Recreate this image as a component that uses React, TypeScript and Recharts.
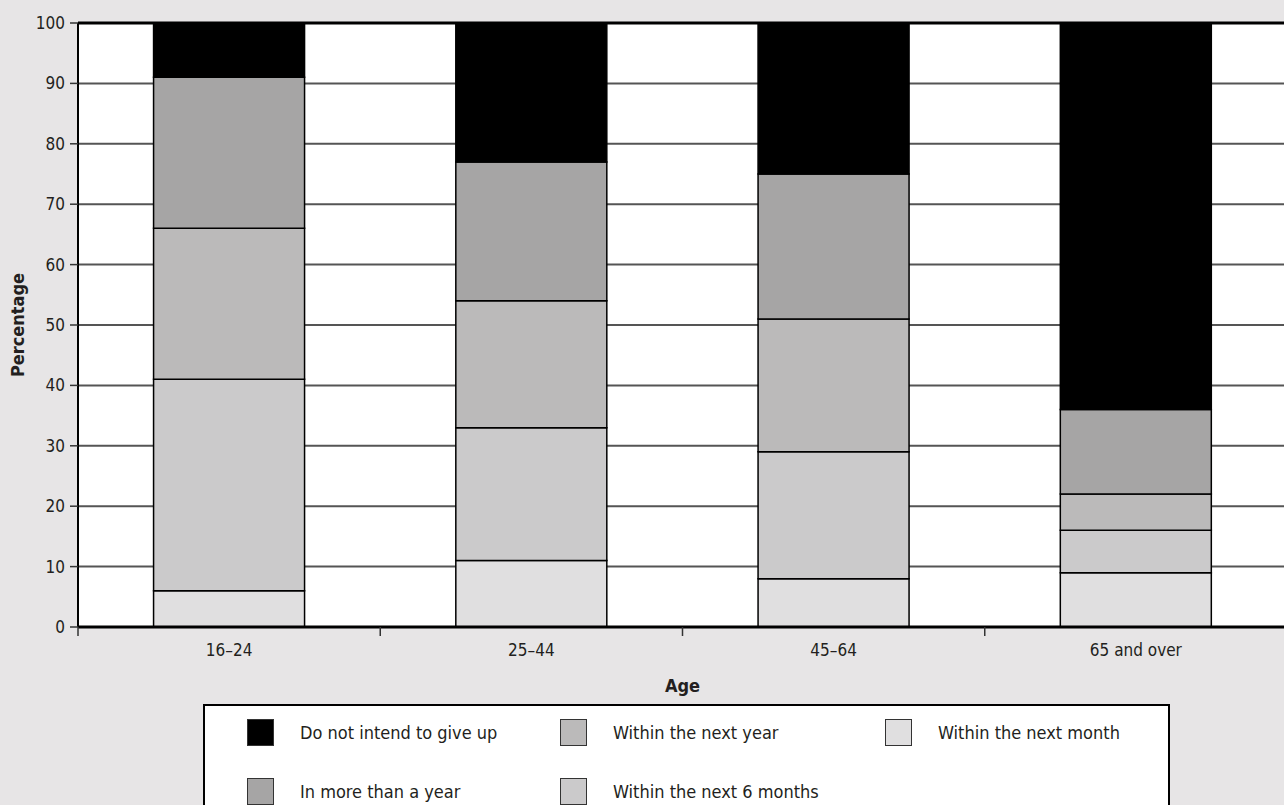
import React from 'react';
import { BarChart, Bar, XAxis, YAxis, CartesianGrid, ReferenceLine, Label } from 'recharts';

const ageGroups = ['16–24', '25–44', '45–64', '65 and over'];
const withinNextMonth = [6, 11, 8, 9];
const withinNext6Months = [35, 22, 21, 7];
const withinNextYear = [25, 21, 22, 6];
const inMoreThanAYear = [25, 23, 24, 14];
const doNotIntend = [9, 23, 25, 64];
const yTicks = [0, 10, 20, 30, 40, 50, 60, 70, 80, 90, 100];

const seriesKeys = ['month', 'six', 'year', 'more', 'never'];
const seriesNames = [
  'Within the next month',
  'Within the next 6 months',
  'Within the next year',
  'In more than a year',
  'Do not intend to give up',
];
const seriesColors = ['#e0dfe0', '#cbcacb', '#bbbaba', '#a6a5a5', '#000000'];

const data = ageGroups.map((age, i) => ({
  age,
  month: withinNextMonth[i],
  six: withinNext6Months[i],
  year: withinNextYear[i],
  more: inMoreThanAYear[i],
  never: doNotIntend[i],
}));

const FONT = "'Liberation Sans Narrow', 'DejaVu Sans Condensed', 'Roboto', sans-serif";
const TEXT = '#231f20';

const XTick = (props: any) => {
  const { x, y, payload, width, visibleTicksCount } = props;
  const band = width / visibleTicksCount;
  const bx = x - band / 2;
  return (
    <g>
      <line x1={bx} y1={y - 17} x2={bx} y2={y - 8} stroke="#333" strokeWidth={1.5} />
      <text x={x} y={y} dy="0.71em" textAnchor="middle" fill={TEXT} fontSize={17} fontFamily={FONT}>
        {payload.value}
      </text>
    </g>
  );
};

const LegendBox = () => {
  const order = [4, 3, 2, 1, 0];
  return (
    <div
      style={{
        position: 'absolute',
        left: 203,
        top: 704,
        width: 967,
        height: 120,
        background: '#fff',
        border: '2px solid #000',
        boxSizing: 'border-box',
        display: 'grid',
        gridTemplateColumns: '313px 325px auto',
        gridTemplateRows: '28px 28px',
        rowGap: 31,
        gridAutoFlow: 'column',
        paddingLeft: 42,
        paddingTop: 12,
        fontFamily: FONT,
        fontSize: 18,
        color: TEXT,
      }}
    >
      {order.map((idx) => (
        <div key={idx} style={{ display: 'flex', alignItems: 'center' }}>
          <div
            style={{
              width: 27,
              height: 27,
              background: seriesColors[idx],
              border: '1px solid #333',
              boxSizing: 'border-box',
              marginRight: 26,
            }}
          />
          <span>{seriesNames[idx]}</span>
        </div>
      ))}
    </div>
  );
};

export default function App() {
  return (
    <div
      style={{
        position: 'absolute',
        left: 0,
        top: 0,
        width: 1284,
        height: 805,
        overflow: 'hidden',
        background: '#e7e5e6',
      }}
    >
      <BarChart
        width={1290}
        height={805}
        data={data}
        margin={{ top: 23, right: 3, left: 0, bottom: 113 }}
        barCategoryGap="25%"
      >
        <CartesianGrid
          vertical={false}
          horizontal={true}
          fill="#ffffff"
          stroke="#555"
          strokeWidth={2}
        />
        <XAxis
          dataKey="age"
          tickLine={false}
          tickSize={9}
          tickMargin={8}
          axisLine={{ stroke: '#000', strokeWidth: 3 }}
          tick={<XTick />}
          height={65}
          interval={0}
        >
          <Label
            value="Age"
            position="insideBottom"
            offset={0}
            fill={TEXT}
            fontSize={18}
            fontWeight="bold"
            fontFamily={FONT}
          />
        </XAxis>
        <YAxis
          domain={[0, 100]}
          ticks={yTicks}
          width={78}
          tickSize={8}
          tickMargin={5}
          interval={0}
          tickLine={{ stroke: '#333', strokeWidth: 1.5 }}
          axisLine={{ stroke: '#000', strokeWidth: 2 }}
          tick={{ fill: TEXT, fontSize: 17, fontFamily: FONT }}
        >
          <Label
            value="Percentage"
            angle={-90}
            position="insideLeft"
            offset={18}
            fill={TEXT}
            fontSize={18}
            fontWeight="bold"
            fontFamily={FONT}
            style={{ textAnchor: 'middle' }}
          />
        </YAxis>
        {seriesKeys.map((k, i) => (
          <Bar
            key={k}
            dataKey={k}
            name={seriesNames[i]}
            stackId="a"
            fill={seriesColors[i]}
            stroke="#000"
            strokeWidth={1.5}
            isAnimationActive={false}
          />
        ))}
        <ReferenceLine y={100} stroke="#000" strokeWidth={3} />
      </BarChart>
      <LegendBox />
    </div>
  );
}
